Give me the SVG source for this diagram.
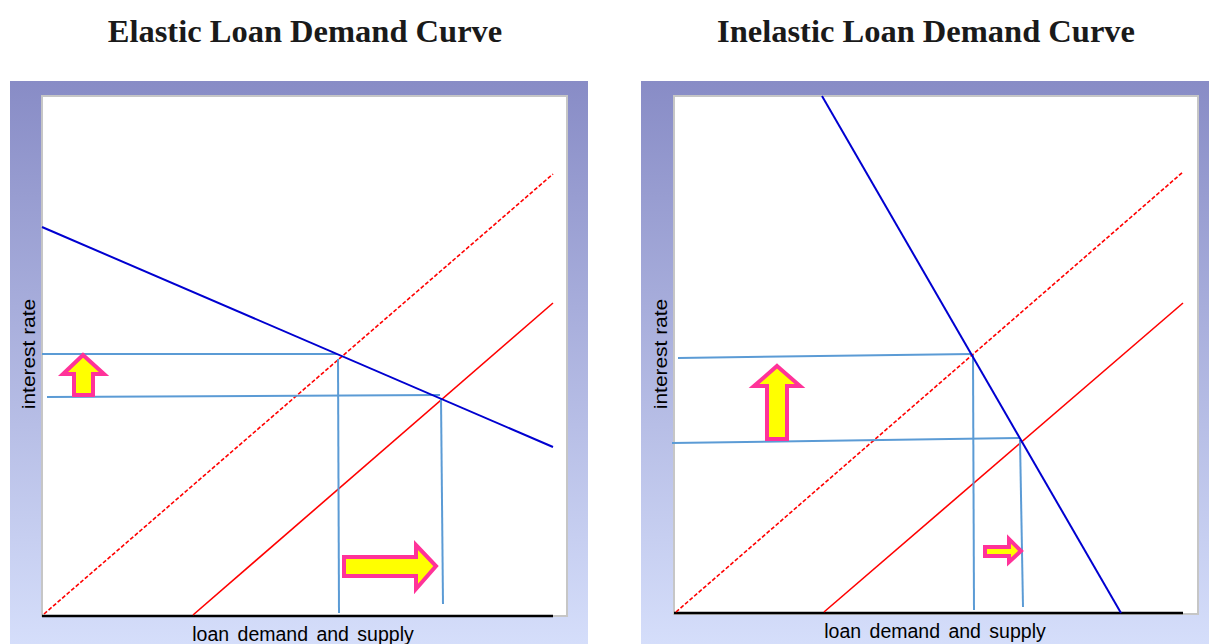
<svg xmlns="http://www.w3.org/2000/svg" width="1209" height="644" viewBox="0 0 1209 644">
<defs>
<linearGradient id="bg" x1="0" y1="0" x2="0" y2="1">
<stop offset="0" stop-color="#888cc6"/>
<stop offset="1" stop-color="#d6dffb"/>
</linearGradient>
</defs>
<style>
.title{font-family:"Liberation Serif","Times New Roman",serif;font-weight:bold;font-size:32.5px;fill:#1a1a1a;text-anchor:middle}
.ax{font-family:"Liberation Sans",Arial,sans-serif;font-size:19.5px;word-spacing:3px;fill:#000;text-anchor:middle}
.axv{font-family:"Liberation Sans",Arial,sans-serif;font-size:19px;fill:#000;text-anchor:middle}
.plot{fill:#fff;stroke:#c6c6c6;stroke-width:2}
.dem{fill:none;stroke:#0000d0;stroke-width:2}
.sup{fill:none;stroke:#ff0000;stroke-width:1.6}
.dash{stroke-dasharray:4 2}
.guide{fill:none;stroke:#5b9bd5;stroke-width:2}
.axis{stroke:#000;stroke-width:2.5}
.arrow{fill:#ffff00;stroke:#ff3399;stroke-width:4;stroke-linejoin:miter}
.arrowsm{fill:#ffff00;stroke:#ff3399;stroke-width:4}
</style>
<rect width="1209" height="644" fill="#fff"/>
<text class="title" x="305" y="42">Elastic Loan Demand Curve</text>
<text class="title" x="926" y="42">Inelastic Loan Demand Curve</text>

<g id="elastic-panel">
<rect x="10" y="81" width="578" height="570" fill="url(#bg)"/>
<rect class="plot" x="42" y="96" width="525" height="520"/>
<line class="axis" x1="42" y1="616" x2="553" y2="616"/>
<text class="ax" x="303" y="641">loan demand and supply</text>
<text class="axv" transform="translate(35,354) rotate(-90) scale(1.1,1)">interest rate</text>
</g>
<g id="elastic-connectors">
<line class="sup dash" x1="44" y1="614" x2="553" y2="174"/>
<line class="sup" x1="193" y1="615" x2="553" y2="303"/>
<polyline class="guide" points="42,354 337,354"/>
<polyline class="guide" points="47,397 440,395"/>
<polyline class="guide" points="338,359 339,613"/>
<polyline class="guide" points="441,398 443,604"/>
<line class="dem" x1="42" y1="227" x2="553" y2="447"/>
</g>
<g id="elastic-up-arrow">
<polygon class="arrow" points="83,355 104,374 93,374 93,395 74,395 74,374 63,374"/>
</g>
<g id="elastic-right-arrow">
<polygon class="arrow" points="344,557 416,557 416,545 436,566 416,589 416,576 344,576"/>
</g>

<g id="inelastic-panel">
<rect x="641" y="81" width="578" height="570" fill="url(#bg)"/>
<rect class="plot" x="674" y="96" width="524" height="518"/>
<line class="axis" x1="674" y1="613" x2="1183" y2="613"/>
<text class="ax" x="935" y="638">loan demand and supply</text>
<text class="axv" transform="translate(667,354) rotate(-90) scale(1.1,1)">interest rate</text>
</g>
<g id="inelastic-connectors">
<line class="sup dash" x1="676" y1="612" x2="1183" y2="172"/>
<line class="sup" x1="824" y1="612" x2="1183" y2="303"/>
<polyline class="guide" points="678,358 972,354"/>
<polyline class="guide" points="672,443 1020,438"/>
<polyline class="guide" points="973,355 974,610"/>
<polyline class="guide" points="1020,440 1023,607"/>
<line class="dem" x1="822" y1="96" x2="1121" y2="613"/>
</g>
<g id="inelastic-up-arrow">
<polygon class="arrow" points="777,366 800,386 787,386 787,439 767,439 767,386 754,386"/>
</g>
<g id="inelastic-right-arrow">
<polygon class="arrowsm" points="985,547 1009,547 1009,539 1021,551 1009,562 1009,556 985,556"/>
</g>
</svg>
